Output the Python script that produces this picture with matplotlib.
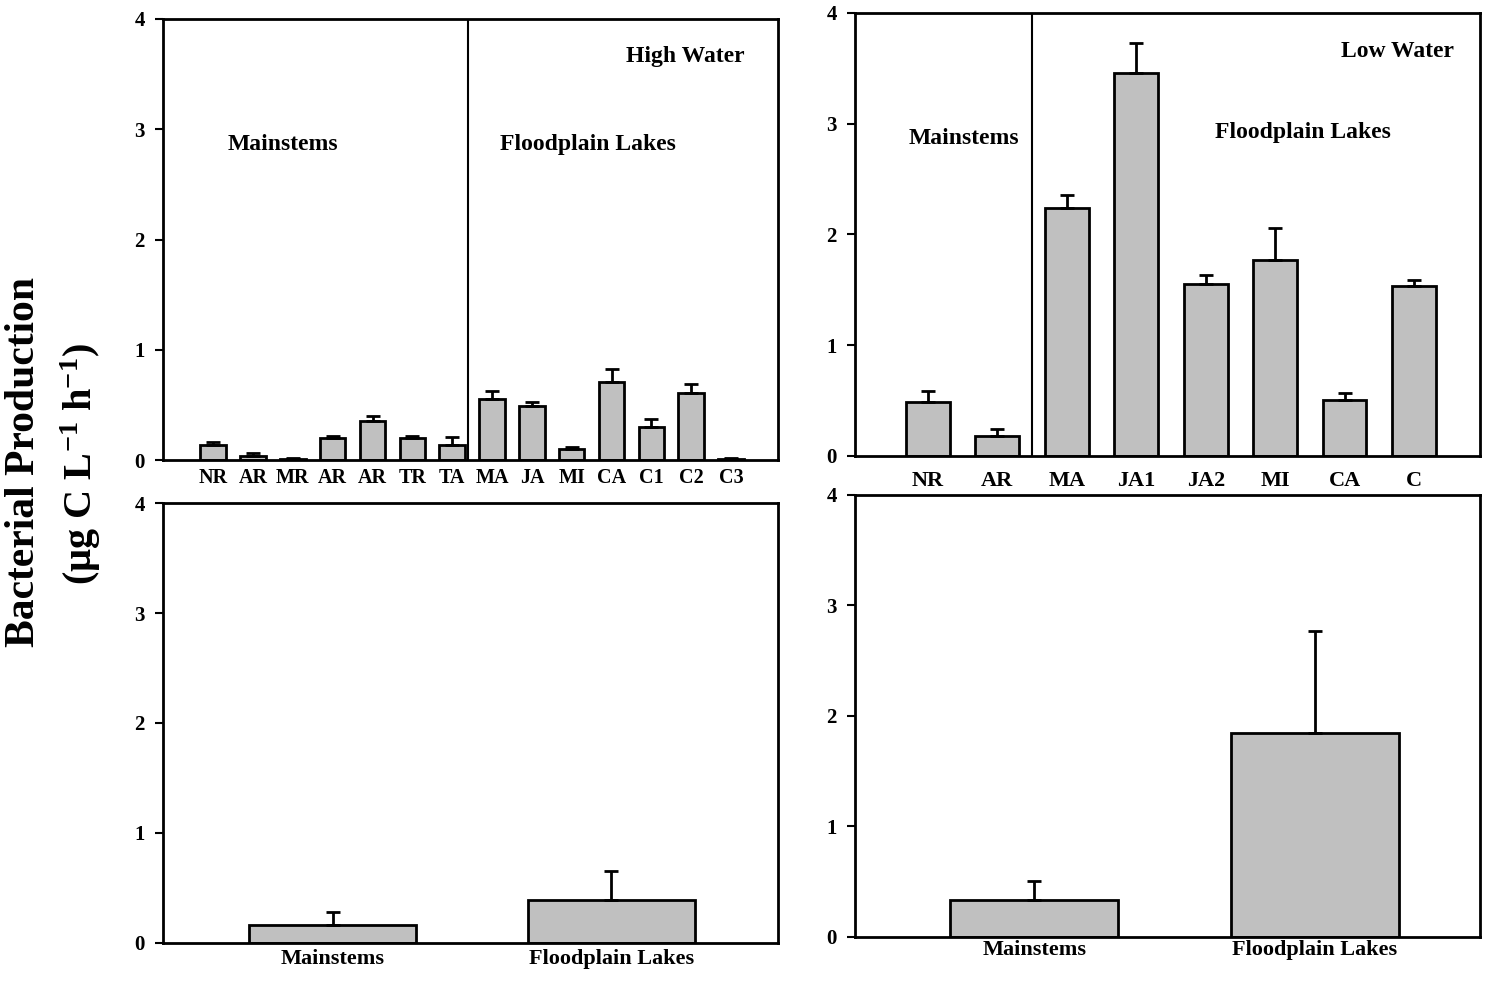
import matplotlib
matplotlib.use("Agg")
import matplotlib.pyplot as plt
import numpy as np

plt.rcParams["font.family"] = ["Liberation Serif", "DejaVu Serif"]
plt.rcParams["font.weight"] = "bold"
plt.rcParams["mathtext.fontset"] = "custom"
plt.rcParams["mathtext.rm"] = "Liberation Serif:bold"
plt.rcParams["mathtext.bf"] = "Liberation Serif:bold"
plt.rcParams["mathtext.default"] = "rm"

# ── data ─────────────────────────────────────────────────────────────────────
hw_sites = ["NR", "AR", "MR", "AR", "AR", "TR", "TA", "MA", "JA", "MI", "CA", "C1", "C2", "C3"]
hw_means = [0.14, 0.04, 0.01, 0.20, 0.355, 0.20, 0.14, 0.55, 0.49, 0.10, 0.71, 0.30, 0.61, 0.01]
hw_err = [0.02, 0.02, 0.005, 0.02, 0.04, 0.02, 0.07, 0.08, 0.04, 0.015, 0.12, 0.075, 0.08, 0.005]

lw_sites = ["NR", "AR", "MA", "JA1", "JA2", "MI", "CA", "C"]
lw_means = [0.49, 0.18, 2.235, 3.46, 1.55, 1.77, 0.51, 1.535]
lw_err = [0.10, 0.06, 0.12, 0.27, 0.08, 0.29, 0.06, 0.055]

groups = ["Mainstems", "Floodplain Lakes"]
hw_group_means = [0.16, 0.39]
hw_group_err = [0.12, 0.26]
lw_group_means = [0.335, 1.845]
lw_group_err = [0.175, 0.925]

BAR = "#c0c0c0"


def _bars(ax, labels, means, errs, width, xlim, fs):
    x = np.arange(len(labels))
    ax.bar(x, means, width=width, color=BAR, edgecolor="black", linewidth=2,
           yerr=[np.zeros(len(errs)), errs], capsize=5,
           error_kw=dict(elinewidth=2, capthick=2, ecolor="black"))
    ax.set_xticks(x)
    ax.set_xticklabels(labels, fontsize=fs, fontweight="bold")
    ax.set_xlim(*xlim)
    ax.set_ylim(0, 4)
    ax.set_yticks([0, 1, 2, 3, 4])
    ax.tick_params(axis="x", length=0, pad=6)
    ax.tick_params(axis="y", direction="out", length=6, width=1.5, labelsize=15, pad=7)
    for lab in ax.get_yticklabels():
        lab.set_fontweight("bold")
    for sp in ax.spines.values():
        sp.set_linewidth(2)


fig = plt.figure(figsize=(15, 9.84), dpi=100)
ax_tl = fig.add_axes([0.1087, 0.5325, 0.41, 0.4482])
ax_tr = fig.add_axes([0.57, 0.5366, 0.4167, 0.4502])
ax_bl = fig.add_axes([0.1087, 0.0417, 0.41, 0.4471])
ax_br = fig.add_axes([0.57, 0.0478, 0.4167, 0.4492])

# high water, per site
_bars(ax_tl, hw_sites, hw_means, hw_err, 0.64, (-1.26, 14.18), 14.5)
ax_tl.axvline(6.4, color="black", lw=1.5)
ax_tl.text(11.85, 3.66, "High Water", ha="center", va="center", fontsize=17)
ax_tl.text(1.75, 2.86, "Mainstems", ha="center", va="center", fontsize=17)
ax_tl.text(9.4, 2.86, "Floodplain Lakes", ha="center", va="center", fontsize=17)

# low water, per site
_bars(ax_tr, lw_sites, lw_means, lw_err, 0.63, (-1.05, 7.95), 16)
ax_tr.tick_params(axis="x", pad=11)
ax_tr.axvline(1.5, color="black", lw=1.5)
ax_tr.text(6.76, 3.65, "Low Water", ha="center", va="center", fontsize=17)
ax_tr.text(0.52, 2.87, "Mainstems", ha="center", va="center", fontsize=17)
ax_tr.text(5.4, 2.92, "Floodplain Lakes", ha="center", va="center", fontsize=17)

# grouped
_bars(ax_bl, groups, hw_group_means, hw_group_err, 0.6, (-0.61, 1.6), 16)
_bars(ax_br, groups, lw_group_means, lw_group_err, 0.6, (-0.64, 1.59), 16)
ax_bl.tick_params(axis="x", pad=4)
ax_br.tick_params(axis="x", pad=2)

fig.text(0.0163, 0.53, "Bacterial Production", rotation=90, ha="center", va="center",
         fontsize=30, fontweight="bold")
fig.text(0.054, 0.528, "(µg C L$^{-1}$ h$^{-1}$)", rotation=90, ha="center", va="center",
         fontsize=29, fontweight="bold")

fig.savefig("out.png", dpi=100)
